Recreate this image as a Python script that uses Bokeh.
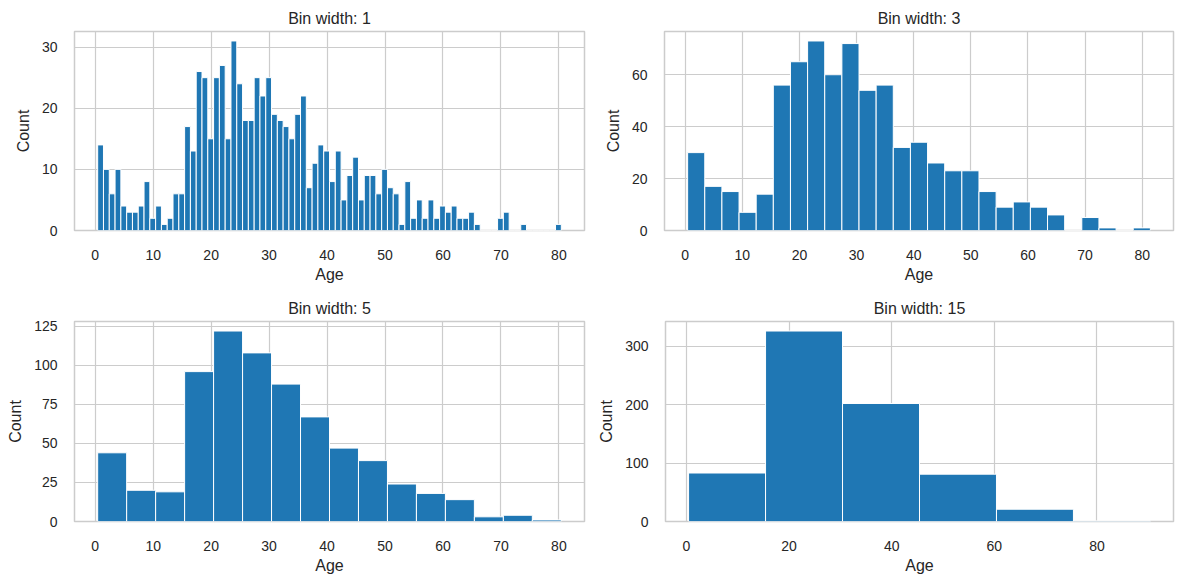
from bokeh.plotting import figure
from bokeh.layouts import column, row
from bokeh.models import Range1d, SingleIntervalTicker
from bokeh.embed import file_html
from bokeh.resources import INLINE

# ---- data (Titanic passenger ages, histogram counts) ----
age_start = 0.42
titles = ["Bin width: 1", "Bin width: 3", "Bin width: 5", "Bin width: 15"]
bin_widths = [1, 3, 5, 15]

counts_w1 = [14, 10, 6, 10, 4, 3, 3, 4, 8, 2,
             4, 1, 2, 6, 6, 17, 13, 26, 25, 15,
             25, 27, 15, 31, 24, 18, 18, 25, 22, 25,
             19, 18, 17, 15, 19, 22, 7, 11, 14, 13,
             8, 13, 5, 9, 12, 5, 9, 9, 6, 10,
             7, 6, 1, 8, 2, 5, 2, 5, 2, 4,
             3, 4, 2, 2, 3, 1, 0, 0, 0, 2,
             3, 0, 0, 1, 0, 0, 0, 0, 0, 1]
counts_w3 = [30, 17, 15, 7, 14, 56, 65, 73, 60, 72, 54, 56, 32, 34,
             26, 23, 23, 15, 9, 11, 9, 6, 0, 5, 1, 0, 1]
counts_w5 = [44, 20, 19, 96, 122, 108, 88, 67, 47, 39, 24, 18, 14, 3, 4, 1]
counts_w15 = [83, 326, 202, 81, 21, 1]

x_tick_steps = [10, 10, 10, 20]
y_tick_steps = [10, 20, 25, 100]

BAR = "#1f77b4"
GRID = "#cccccc"
TEXT = "#262626"
FONT = "Liberation Sans"

all_counts = [counts_w1, counts_w3, counts_w5, counts_w15]

# layout geometry (sizes only)
widths = [595, 588, 595, 588]
heights = [285, 285, 299, 299]
b_left = [74, 69, 74, 69]
b_right = [11, 10, 11, 10]
b_top = [31, 31, 36, 36]
b_bottom = [54, 54, 63, 63]

figs = []
for k in range(4):
    counts = all_counts[k]
    w = bin_widths[k]
    lefts = [age_start + i * w for i in range(len(counts))]
    rights = [l + w for l in lefts]
    x_lo, x_hi = lefts[0], rights[-1]
    pad = 0.05 * (x_hi - x_lo)
    y_hi = max(counts) * 1.05

    p = figure(width=widths[k], height=heights[k], output_backend="svg",
               toolbar_location=None, title=titles[k],
               x_range=Range1d(x_lo - pad, x_hi + pad),
               y_range=Range1d(0, y_hi),
               min_border_left=b_left[k], min_border_right=b_right[k],
               min_border_top=b_top[k], min_border_bottom=b_bottom[k])
    p.quad(left=lefts, right=rights, bottom=0, top=counts,
           fill_color=BAR, line_color="white", line_width=1)

    p.xaxis.ticker = SingleIntervalTicker(interval=x_tick_steps[k], num_minor_ticks=0)
    p.yaxis.ticker = SingleIntervalTicker(interval=y_tick_steps[k], num_minor_ticks=0)
    p.xaxis.axis_label = "Age"
    p.yaxis.axis_label = "Count"

    for ax in (p.xaxis[0], p.yaxis[0]):
        ax.axis_line_color = None
        ax.major_tick_line_color = None
        ax.minor_tick_line_color = None
        ax.major_tick_out = 0
        ax.major_tick_in = 0
        ax.major_label_text_font = FONT
        ax.major_label_text_font_size = "14px"
        ax.major_label_text_color = TEXT
        ax.axis_label_text_font = FONT
        ax.axis_label_text_font_size = "16px"
        ax.axis_label_text_font_style = "normal"
        ax.axis_label_text_color = TEXT
    p.xaxis.major_label_standoff = 19
    p.xaxis.axis_label_standoff = 3
    p.yaxis.major_label_standoff = 17
    p.yaxis.axis_label_standoff = 7
    p.yaxis.major_label_orientation = "horizontal"

    p.xgrid.grid_line_color = GRID
    p.ygrid.grid_line_color = GRID
    p.xgrid.grid_line_width = 1.2
    p.ygrid.grid_line_width = 1.2
    p.outline_line_color = GRID
    p.outline_line_width = 1.5
    p.outline_line_alpha = 1.0

    p.title.align = "center"
    p.title.text_font = FONT
    p.title.text_font_size = "16px"
    p.title.text_font_style = "normal"
    p.title.text_color = TEXT
    p.title.standoff = 9

    p.background_fill_color = "white"
    p.border_fill_color = "white"
    figs.append(p)

layout = column(row(figs[0], figs[1]), row(figs[2], figs[3]))

with open("out.html", "w") as f:
    f.write(file_html(layout, INLINE))
